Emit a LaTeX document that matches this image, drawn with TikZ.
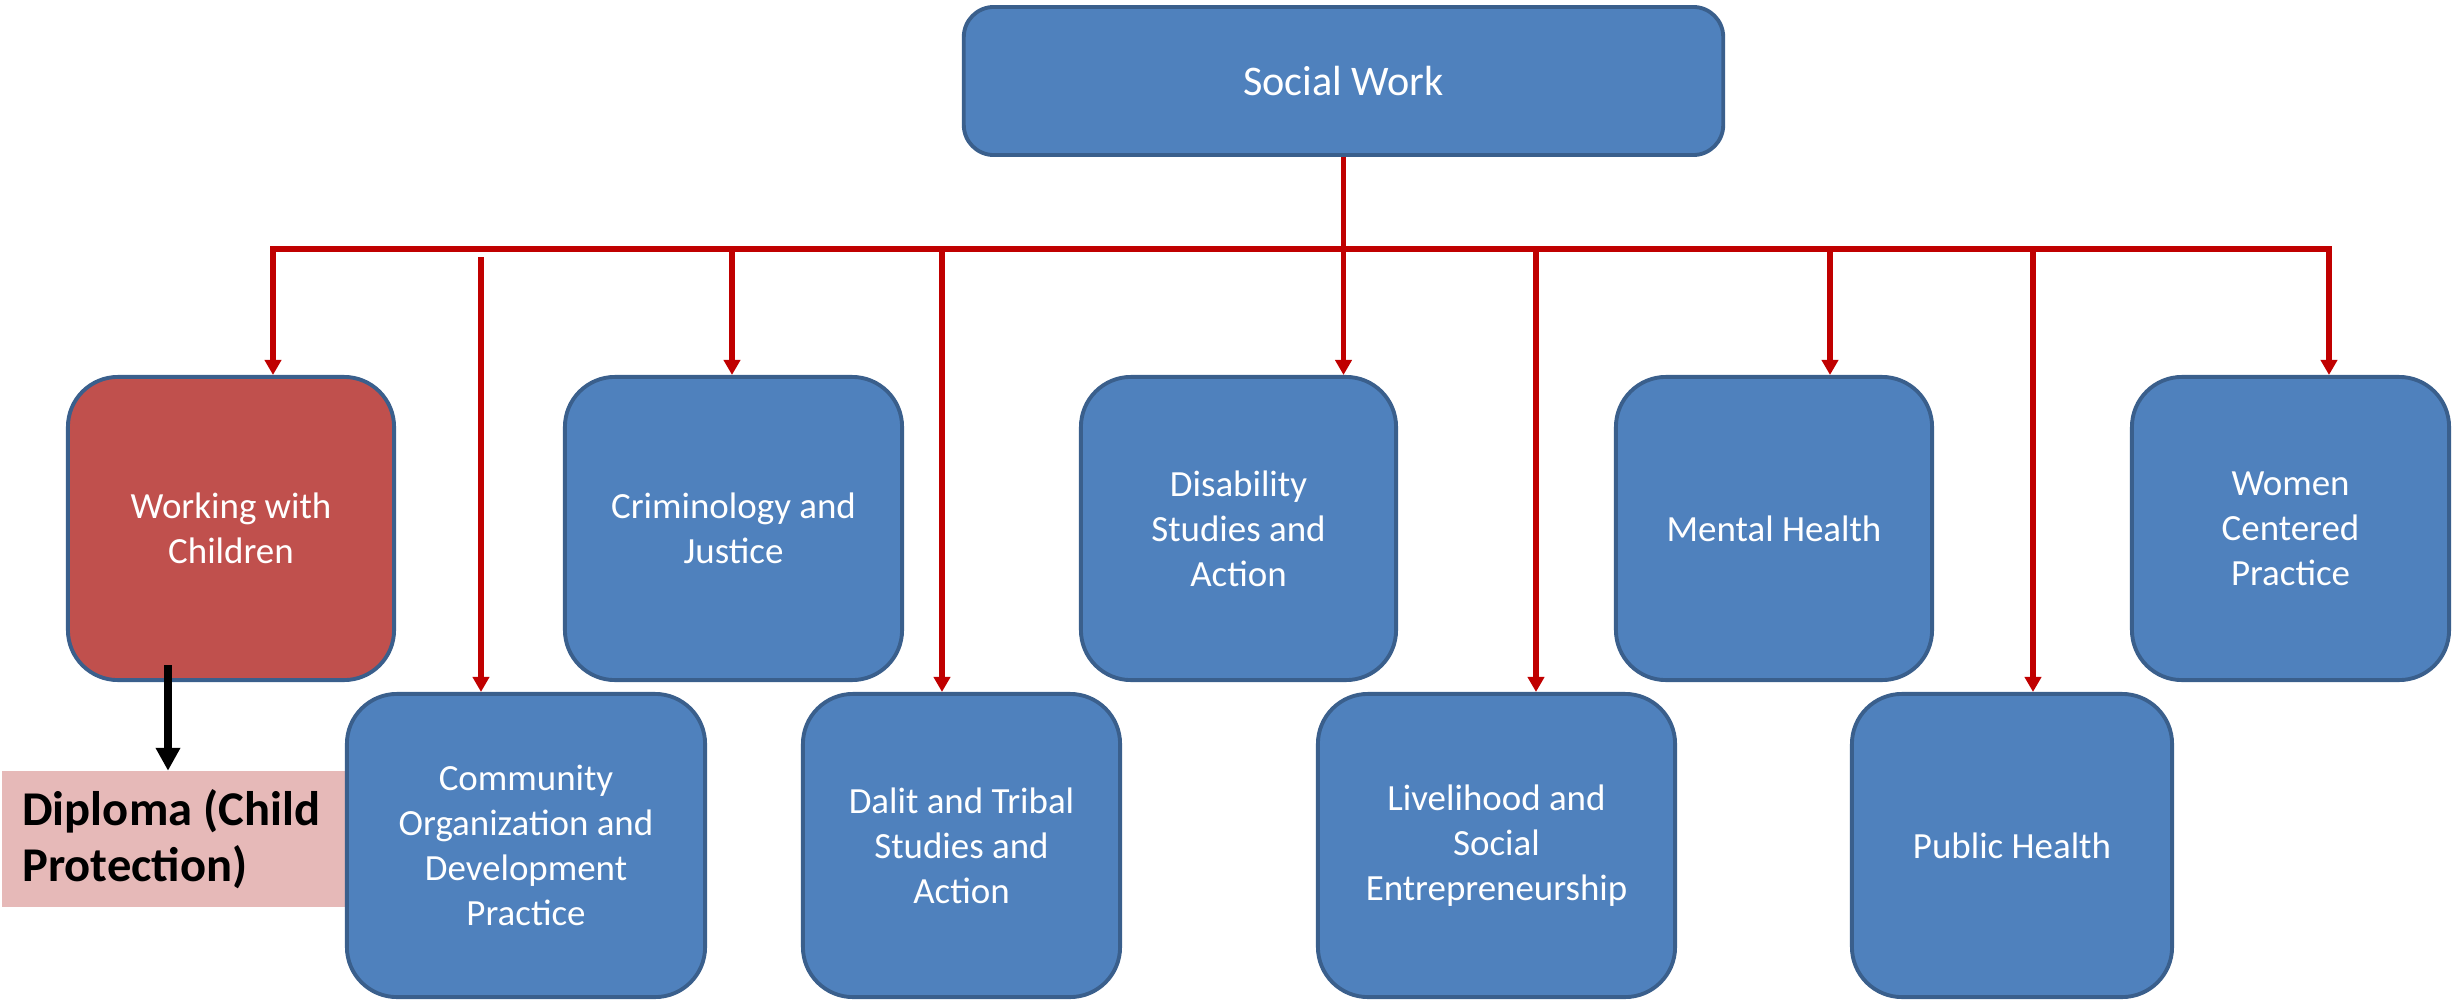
\documentclass[tikz,border=0pt]{standalone}
\usepackage{fontspec}
\setmainfont{Carlito}
\usetikzlibrary{arrows.meta}
\definecolor{boxblue}{HTML}{4F81BD}
\definecolor{boxborder}{HTML}{3A5F8C}
\definecolor{boxred}{HTML}{C0504D}
\definecolor{linered}{HTML}{C00000}
\definecolor{diplpink}{HTML}{E6B9B8}
\tikzset{
  topbox/.style={draw=boxborder, line width=1.1pt, fill=boxblue, rounded corners=0.3cm,
    text=white, font=\fontsize{12}{14.6}\selectfont, align=center, inner sep=0pt},
  subbox/.style={draw=boxborder, line width=1.1pt, fill=boxblue, rounded corners=0.5cm,
    text=white, font=\fontsize{10.5}{12.75}\selectfont, align=center, inner sep=0pt,
    minimum height=3.03cm},
  redbox/.style={subbox, fill=boxred},
  diplbox/.style={fill=diplpink, draw=none, font=\bfseries\fontsize{13.8}{16}\selectfont,
    align=flush left, text width=3.06cm, inner xsep=0.2cm, inner ysep=0pt, minimum height=1.35cm},
  redline/.style={draw=linered, line width=1.45pt},
  redarrow/.style={redline, -{Triangle[width=4.6pt,length=4.3pt]}},
  blackarrow/.style={draw=black, line width=2.3pt, -{Triangle[width=6.6pt,length=6.5pt]}}
}
\begin{document}
\begin{tikzpicture}[x=0.01cm, y=-0.01cm]
\useasboundingbox (0,0) rectangle (2463,1000);
% top
\node[topbox, minimum width=7.59cm, minimum height=1.48cm] (sw) at (1343.5,81) {Social Work};
% diploma (under the community box)
\node[diplbox, minimum width=3.47cm] (dp) at (175.5,839) {Diploma (Child\\Protection)};
% row 1
\node[redbox, minimum width=3.26cm] (wc) at (231,528.5) {Working with\\Children};
\node[subbox, minimum width=3.37cm] (cr) at (733.5,528.5) {Criminology and\\Justice};
\node[subbox, minimum width=3.15cm] (di) at (1238.5,528.5) {Disability\\Studies and\\Action};
\node[subbox, minimum width=3.16cm] (mh) at (1774,528.5) {Mental Health};
\node[subbox, minimum width=3.17cm] (wo) at (2290.5,528.5) {Women\\Centered\\Practice};
% row 2
\node[subbox, minimum width=3.58cm] (co) at (526,845.5) {Community\\Organization and\\Development\\Practice};
\node[subbox, minimum width=3.17cm] (da) at (961.5,845.5) {Dalit and Tribal\\Studies and\\Action};
\node[subbox, minimum width=3.57cm] (li) at (1496.5,845.5) {Livelihood and\\Social\\Entrepreneurship};
\node[subbox, minimum width=3.20cm] (ph) at (2012,845.5) {Public Health};
% bus coordinates
\coordinate (b1) at (273,249);
\coordinate (b2) at (481,257);
\coordinate (b3) at (732,249);
\coordinate (b4) at (942,249);
\coordinate (b6) at (1536,249);
\coordinate (b7) at (1830,249);
\coordinate (b8) at (2033,249);
\coordinate (b9) at (2329,249);
% connectors
\draw[redline, line join=miter, {Triangle[width=4.6pt,length=4.3pt]}-{Triangle[width=4.6pt,length=4.3pt]}]
  (b1 |- wc.north) -- (b1) -- (b9) -- (b9 |- wo.north);
\draw[redarrow] (sw.south) -- (sw.south |- di.north);
\draw[redarrow] (b2) -- (b2 |- co.north);
\draw[redarrow] (b3) -- (b3 |- cr.north);
\draw[redarrow] (b4) -- (b4 |- da.north);
\draw[redarrow] (b6) -- (b6 |- li.north);
\draw[redarrow] (b7) -- (b7 |- mh.north);
\draw[redarrow] (b8) -- (b8 |- ph.north);
\coordinate (k) at (168,665);
\draw[blackarrow] (k) -- (k |- dp.north);
\end{tikzpicture}
\end{document}
